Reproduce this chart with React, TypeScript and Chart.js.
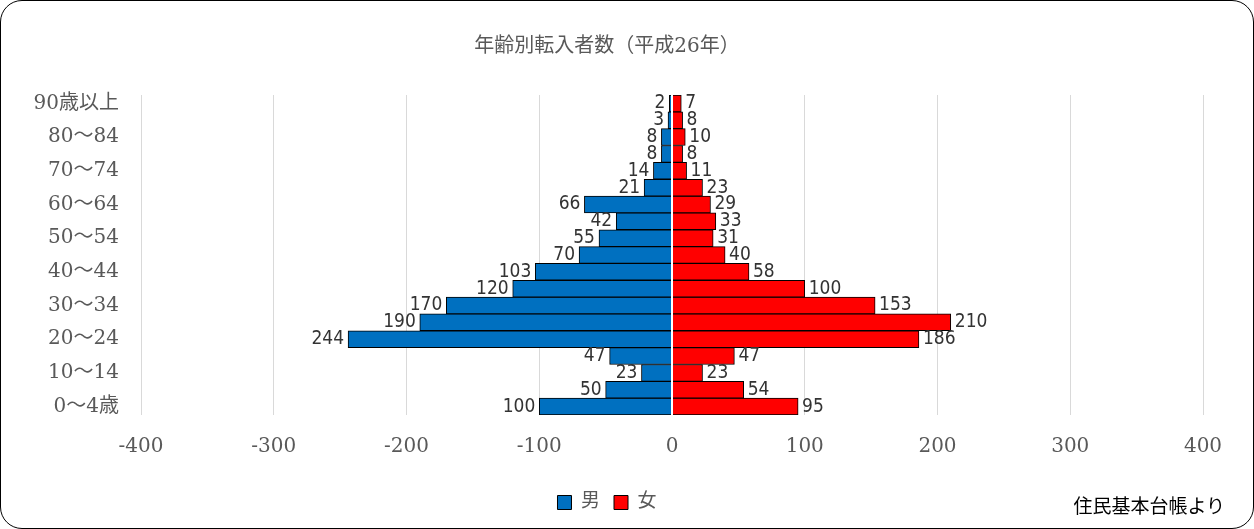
import React, { useEffect, useRef } from 'react';
import { Chart, registerables } from 'chart.js';

Chart.register(...registerables);

const ageLabels = ['0〜4歳', '5〜9', '10〜14', '15〜19', '20〜24', '25〜29', '30〜34', '35〜39', '40〜44', '45〜49', '50〜54', '55〜59', '60〜64', '65〜69', '70〜74', '75〜79', '80〜84', '85〜89', '90歳以上'];
const maleCounts = [100, 50, 23, 47, 244, 190, 170, 120, 103, 70, 55, 42, 66, 21, 14, 8, 8, 3, 2];
const femaleCounts = [95, 54, 23, 47, 186, 210, 153, 100, 58, 40, 31, 33, 29, 23, 11, 8, 10, 8, 7];

const FONT = '"DejaVu Serif", "Noto Sans CJK JP", serif';

const barLabels = {
  id: 'barLabels',
  afterDatasetsDraw(chart: any) {
    const { ctx, chartArea, scales } = chart;
    ctx.save();
    // white zero line
    const x0 = scales.x.getPixelForValue(0);
    ctx.strokeStyle = '#fff';
    ctx.lineWidth = 2;
    ctx.beginPath();
    ctx.moveTo(x0, chartArea.top);
    ctx.lineTo(x0, chartArea.bottom);
    ctx.stroke();
    ctx.font = '19px "Liberation Sans Narrow", "DejaVu Sans Condensed", sans-serif';
    ctx.fillStyle = '#333';
    ctx.textBaseline = 'middle';
    chart.data.datasets.forEach((ds: any, di: number) => {
      const meta = chart.getDatasetMeta(di);
      meta.data.forEach((bar: any, i: number) => {
        const v = Math.abs(ds.data[i]);
        if (di === 0) {
          ctx.textAlign = 'right';
          ctx.fillText(String(v), bar.x - 4, bar.y);
        } else {
          ctx.textAlign = 'left';
          ctx.fillText(String(v), bar.x + 4, bar.y);
        }
      });
    });
    ctx.restore();
  },
};

export default function App() {
  const chartRef = useRef<HTMLCanvasElement>(null);

  useEffect(() => {
    document.body.style.margin = '0';
    if (!chartRef.current) return;
    const chart = new Chart(chartRef.current, {
      type: 'bar',
      data: {
        labels: ageLabels,
        datasets: [
          {
            label: '男',
            data: maleCounts.map((v) => -v),
            backgroundColor: '#0070c0',
            borderColor: '#000',
            borderWidth: 1,
            barPercentage: 1,
            categoryPercentage: 1,
          },
          {
            label: '女',
            data: femaleCounts,
            backgroundColor: '#ff0000',
            borderColor: '#000',
            borderWidth: 1,
            barPercentage: 1,
            categoryPercentage: 1,
          },
        ],
      },
      options: {
        indexAxis: 'y',
        animation: false,
        responsive: true,
        maintainAspectRatio: false,
        layout: { padding: { top: 10, right: 50, left: 10, bottom: 6 } },
        plugins: {
          title: {
            display: true,
            text: '年齢別転入者数（平成26年）',
            color: '#595959',
            font: { family: FONT, size: 20, weight: 'normal' },
            padding: { top: 24, bottom: 36 },
          },
          legend: {
            position: 'bottom',
            labels: {
              boxWidth: 14,
              boxHeight: 14,
              color: '#595959',
              font: { family: FONT, size: 19 },
              padding: 14,
            },
          },
          tooltip: { enabled: false },
        },
        scales: {
          x: {
            stacked: true,
            min: -400,
            max: 400,
            ticks: { stepSize: 100, color: '#595959', font: { family: FONT, size: 20 }, padding: 20 },
            grid: { color: '#d9d9d9', drawTicks: false },
            border: { display: false },
          },
          y: {
            stacked: true,
            reverse: true,
            afterFit: (s: any) => { s.width = 130; },
            ticks: {
              autoSkip: false,
              padding: 14,
              color: '#595959',
              font: { family: FONT, size: 20 },
              callback: (_v: any, i: number) => (i % 2 === 0 ? ageLabels[i] : ''),
            },
            grid: { display: false },
            border: { display: false },
          },
        },
      },
      plugins: [barLabels],
    } as any);
    return () => chart.destroy();
  }, []);

  return (
    <div style={{ position: 'relative', width: 1254, height: 529, boxSizing: 'border-box', border: '1px solid #000', borderRadius: 22, background: '#fff', overflow: 'hidden' }}>
      <div style={{ position: 'absolute', left: 0, top: 0, width: 1252, height: 527 }}>
        <canvas ref={chartRef}></canvas>
      </div>
      <div style={{ position: 'absolute', right: 28, bottom: 10, fontFamily: FONT, fontSize: 19, color: '#000' }}>住民基本台帳より</div>
    </div>
  );
}
